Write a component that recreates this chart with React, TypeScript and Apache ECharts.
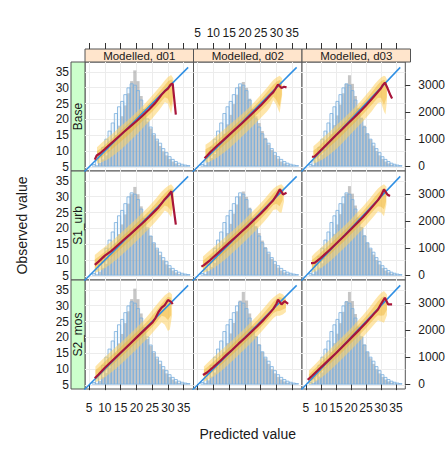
import React, { useEffect, useRef } from "react";
import * as echarts from "echarts";

// ---------- categories / ticks ----------
const COLUMNS = ["Modelled, d01", "Modelled, d02", "Modelled, d03"];
const ROWS = ["Base", "S1_urb", "S2_mos"];
const XY_TICKS = [5, 10, 15, 20, 25, 30, 35];
const COUNT_TICKS = [0, 1000, 2000, 3000];
const XY_MIN = 3.7;
const XY_MAX = 38.1;
const COUNT_MIN = -180;
const COUNT_MAX = 3860;

// ---------- histogram bins (left edges, width 1) ----------
const BIN_EDGES = [6, 7, 8, 9, 10, 11, 12, 13, 14, 15, 16, 17, 18, 19, 20, 21, 22, 23, 24, 25, 26, 27, 28, 29, 30, 31, 32, 33, 34, 35, 36];
const BIN_WIDTH = 1;

// observed values histogram (blue outline) - same in every panel
const OBSERVED_COUNTS = [60, 200, 400, 700, 1000, 1300, 1600, 1950, 2200, 2400, 2650, 2900, 3050, 3000, 2800, 2450, 2100, 1750, 1450, 1200, 1000, 850, 650, 500, 350, 250, 170, 110, 70, 40, 20];

// predicted values histograms (grey), one per panel
const PRED_BASE_D01 = [0, 30, 120, 250, 400, 600, 850, 1150, 1500, 1850, 2250, 2700, 3150, 3550, 3150, 2600, 2050, 1650, 1400, 1150, 950, 750, 550, 400, 270, 170, 100, 50, 20, 10, 0];
const PRED_BASE_D02 = [0, 40, 150, 300, 450, 650, 900, 1200, 1550, 1900, 2300, 2650, 2950, 3120, 2900, 2500, 2100, 1850, 1600, 1300, 1050, 800, 600, 420, 280, 170, 100, 50, 20, 10, 0];
const PRED_BASE_D03 = [0, 40, 140, 280, 430, 620, 880, 1180, 1520, 1880, 2280, 2700, 3050, 3370, 3050, 2600, 2150, 1800, 1500, 1200, 980, 760, 560, 400, 270, 170, 100, 50, 20, 10, 0];
const PRED_S1_D01 = [0, 30, 130, 270, 420, 620, 870, 1170, 1520, 1880, 2250, 2650, 3000, 3270, 3000, 2550, 2100, 1720, 1450, 1180, 960, 750, 550, 400, 270, 170, 100, 50, 20, 10, 0];
const PRED_S1_D02 = [0, 40, 150, 300, 460, 660, 920, 1220, 1560, 1900, 2280, 2620, 2920, 3100, 2900, 2500, 2120, 1820, 1560, 1280, 1040, 800, 600, 420, 280, 170, 100, 50, 20, 10, 0];
const PRED_S1_D03 = [0, 40, 140, 280, 440, 640, 890, 1190, 1530, 1880, 2260, 2660, 3020, 3300, 3020, 2580, 2140, 1780, 1480, 1200, 970, 760, 560, 400, 270, 170, 100, 50, 20, 10, 0];
const PRED_S2_D01 = [0, 30, 120, 260, 410, 610, 860, 1160, 1510, 1860, 2260, 2700, 3150, 3540, 3150, 2620, 2080, 1680, 1420, 1160, 950, 750, 550, 400, 270, 170, 100, 50, 20, 10, 0];
const PRED_S2_D02 = [0, 40, 140, 280, 430, 630, 880, 1180, 1520, 1880, 2270, 2700, 3100, 3420, 3100, 2620, 2150, 1780, 1480, 1190, 960, 750, 550, 400, 270, 170, 100, 50, 20, 10, 0];
const PRED_S2_D03 = [0, 40, 140, 280, 430, 630, 880, 1180, 1520, 1870, 2260, 2680, 3080, 3420, 3080, 2600, 2140, 1760, 1470, 1190, 960, 750, 550, 400, 270, 170, 100, 50, 20, 10, 0];

// perfect-model line
const PERFECT_LINE = [[0, 0], [36.4, 36.4]];

// ---------- medians [predicted, observed] ----------
const MED_BASE_D01 = [[6.8, 7.3], [7.4, 8.6], [8.5, 9.3], [10, 10.6], [12, 12.4], [14, 14.2], [16, 16.0], [18, 17.7], [20, 19.4], [22, 21.2], [24, 23.1], [26, 25.2], [27, 26.5], [28, 27.8], [29, 28.9], [30, 29.7], [30.8, 30.9], [31.5, 31.3], [32.5, 21.5]];
const MED_BASE_D02 = [[7.2, 7.7], [8, 8.5], [9, 9.6], [11, 11.5], [13, 13.3], [15, 15.1], [17, 16.9], [19, 18.7], [21, 20.6], [23, 22.5], [25, 24.4], [27, 26.5], [28, 27.6], [29, 28.6], [29.6, 29.5], [30.5, 31.0], [31.6, 29.9], [32.4, 30.3], [33.2, 30.1]];
const MED_BASE_D03 = [[7.0, 8.2], [7.8, 8.2], [9, 9.3], [11, 11.2], [13, 13.1], [15, 15.0], [17, 16.8], [19, 18.7], [21, 20.5], [23, 22.4], [25, 24.4], [27, 26.5], [28, 27.6], [29, 28.7], [30, 29.8], [30.6, 30.8], [31.3, 31.6], [32.2, 29.8], [33.2, 27.5], [33.7, 26.6]];
const MED_S1_D01 = [[6.8, 8.5], [8, 9.5], [10, 11.4], [12, 12.8], [14, 14.6], [16, 16.4], [18, 18.1], [20, 19.9], [22, 21.7], [24, 23.6], [26, 25.6], [27, 26.6], [28, 27.9], [29, 29.2], [30, 30.3], [31.1, 31.7], [32.5, 21.2]];
const MED_S1_D02 = [[6.2, 7.9], [7, 8.4], [9, 10.0], [11, 11.8], [13, 13.6], [15, 15.4], [17, 17.2], [19, 19.0], [21, 20.8], [23, 22.7], [25, 24.6], [27, 26.7], [28, 27.8], [29, 28.9], [30, 30.4], [31.1, 32.3], [32.1, 30.7], [33.2, 31.2]];
const MED_S1_D03 = [[6.7, 9.0], [7.2, 9.0], [8, 9.2], [10, 10.7], [12, 12.4], [14, 14.2], [16, 16.0], [18, 17.8], [20, 19.7], [22, 21.6], [24, 23.5], [26, 25.6], [28, 27.8], [29, 28.9], [30, 30.3], [31, 32.3], [32.1, 30.7], [33, 30.2]];
const MED_S2_D01 = [[6.8, 7.1], [8, 8.3], [10, 10.4], [12, 12.3], [14, 14.2], [16, 16.1], [18, 18.0], [20, 19.9], [22, 21.8], [24, 23.7], [25, 24.6], [26, 26.0], [27, 28.0], [28, 29.4], [29, 30.2], [30, 31.8], [31, 31.2], [31.5, 30.5]];
const MED_S2_D02 = [[6.7, 8.1], [8, 8.9], [10, 10.6], [12, 12.4], [14, 14.3], [16, 16.1], [18, 18.0], [20, 19.8], [22, 21.7], [24, 23.6], [26, 25.6], [28, 27.8], [29, 29.0], [30, 30.6], [30.5, 31.9], [31.6, 30.4], [32.6, 31.4], [33.7, 30.6]];
const MED_S2_D03 = [[5.6, 6.6], [7, 7.8], [9, 9.6], [11, 11.4], [13, 13.2], [15, 15.0], [17, 16.9], [19, 18.8], [21, 20.7], [23, 22.6], [25, 24.6], [27, 26.7], [28, 27.8], [29, 28.8], [30, 30.5], [31.3, 32.5], [32.4, 30.4], [33.7, 30.4]];

// ---------- 10/90 percentile bands [predicted, low, high] ----------
const Q1090_BASE_D01 = [[7.5, 6.0, 11.2], [9, 6.5, 12.6], [11, 7.4, 14.3], [13, 8.8, 16.0], [15, 10.4, 17.8], [17, 12.2, 19.5], [19, 14.2, 21.3], [21, 16.2, 23.2], [23, 18.3, 25.3], [25, 20.3, 27.5], [27, 22.6, 29.8], [28, 24.0, 31.0], [29, 25.4, 32.3], [30, 25.0, 33.4], [31, 21.8, 34.0], [31.7, 25.5, 33.0]];
const Q1090_BASE_D02 = [[7.5, 6.2, 12.0], [9, 6.8, 13.0], [11, 7.8, 14.8], [13, 9.2, 16.5], [15, 10.8, 18.2], [17, 12.6, 19.9], [19, 14.5, 21.6], [21, 16.4, 23.4], [23, 18.4, 25.5], [25, 20.4, 27.7], [27, 22.5, 30.0], [28, 23.8, 31.2], [29, 26.0, 32.4], [30, 24.5, 33.2], [31, 22.0, 33.8], [31.8, 27.5, 33.0]];
const Q1090_BASE_D03 = [[7.5, 6.0, 11.5], [9, 6.6, 12.8], [11, 7.6, 14.5], [13, 9.0, 16.2], [15, 10.6, 18.0], [17, 12.4, 19.8], [19, 14.4, 21.6], [21, 16.4, 23.5], [23, 18.4, 25.5], [25, 20.4, 27.7], [27, 22.6, 30.0], [28, 24.0, 31.2], [29, 25.2, 32.3], [30, 25.4, 33.2], [31, 22.5, 33.8], [31.5, 21.5, 33.5], [32, 26.0, 32.5]];
const Q1090_S1_D01 = [[6.8, 6.0, 11.6], [8, 6.4, 12.6], [10, 7.4, 14.2], [12, 8.8, 15.8], [14, 10.4, 17.6], [16, 12.2, 19.4], [18, 14.0, 21.2], [20, 15.9, 23.0], [22, 17.9, 25.0], [24, 19.9, 27.0], [26, 22.0, 29.2], [28, 24.4, 31.6], [29, 25.6, 32.6], [30, 25.0, 33.4], [31, 23.5, 33.9], [31.8, 27.0, 33.0]];
const Q1090_S1_D02 = [[6.7, 6.0, 11.1], [8, 6.4, 12.3], [10, 7.4, 14.0], [12, 8.8, 15.7], [14, 10.4, 17.4], [16, 12.2, 19.2], [18, 14.0, 21.0], [20, 15.9, 22.9], [22, 17.9, 24.9], [24, 19.9, 26.9], [26, 22.0, 29.0], [28, 24.4, 31.4], [29, 25.8, 32.5], [30, 26.0, 33.3], [31, 25.0, 33.8], [31.6, 24.9, 33.9], [32.4, 28.5, 33.0]];
const Q1090_S1_D03 = [[7, 6.0, 11.2], [8, 6.4, 12.2], [10, 7.4, 13.9], [12, 8.8, 15.6], [14, 10.4, 17.4], [16, 12.2, 19.2], [18, 14.0, 21.0], [20, 15.9, 22.9], [22, 17.9, 24.9], [24, 19.9, 26.9], [26, 22.0, 29.1], [28, 24.2, 31.5], [29, 25.4, 32.6], [30, 25.0, 33.4], [31, 23.8, 33.9], [31.8, 27.5, 33.2]];
const Q1090_S2_D01 = [[7, 5.8, 10.8], [8, 6.2, 11.8], [10, 7.4, 13.8], [12, 8.9, 15.6], [14, 10.6, 17.4], [16, 12.4, 19.2], [18, 14.3, 21.1], [20, 16.2, 23.0], [22, 18.2, 25.0], [24, 20.2, 27.3], [26, 22.5, 29.8], [28, 24.8, 32.2], [29, 24.0, 33.3], [30, 22.0, 34.0], [30.6, 22.5, 34.2], [31.3, 27.0, 33.5]];
const Q1090_S2_D02 = [[7, 6.0, 10.8], [8, 6.5, 11.8], [10, 7.6, 13.7], [12, 9.0, 15.5], [14, 10.7, 17.3], [16, 12.5, 19.1], [18, 14.4, 21.0], [20, 16.3, 22.9], [22, 18.3, 24.9], [24, 20.4, 27.0], [26, 22.6, 29.3], [28, 24.9, 31.6], [29, 26.0, 32.6], [30, 26.8, 33.4], [31, 26.8, 34.0], [32, 27.2, 33.6], [33, 28.0, 32.5]];
const Q1090_S2_D03 = [[6, 5.0, 9.5], [8, 5.9, 11.4], [10, 7.2, 13.4], [12, 8.7, 15.3], [14, 10.4, 17.2], [16, 12.2, 19.1], [18, 14.1, 21.0], [20, 16.0, 22.9], [22, 18.0, 24.9], [24, 20.0, 27.0], [26, 22.2, 29.3], [28, 24.4, 31.8], [29, 25.4, 33.0], [30, 25.0, 34.0], [31, 24.6, 34.6], [32, 27.0, 33.5]];

// ---------- 25/75 percentile bands [predicted, low, high] ----------
const Q2575_BASE_D01 = [[7.5, 7.0, 10.0], [9, 8.0, 11.0], [11, 9.6, 12.8], [13, 11.2, 14.6], [15, 12.9, 16.4], [17, 14.7, 18.2], [19, 16.6, 20.1], [21, 18.5, 22.0], [23, 20.4, 24.0], [25, 22.4, 26.1], [27, 24.6, 28.4], [28, 25.8, 29.6], [29, 27.0, 30.8], [30, 26.5, 32.0], [31, 24.0, 32.6], [31.6, 27.0, 32.2]];
const Q2575_BASE_D02 = [[7.5, 7.0, 10.6], [9, 8.1, 11.4], [11, 9.8, 13.1], [13, 11.5, 14.9], [15, 13.2, 16.6], [17, 15.0, 18.4], [19, 16.9, 20.3], [21, 18.8, 22.2], [23, 20.7, 24.2], [25, 22.7, 26.3], [27, 24.8, 28.6], [28, 25.8, 29.8], [29, 27.2, 30.9], [30, 26.0, 31.9], [31, 24.0, 32.4], [31.7, 28.0, 31.8]];
const Q2575_BASE_D03 = [[7.5, 7.0, 10.2], [9, 8.0, 11.2], [11, 9.7, 13.0], [13, 11.4, 14.8], [15, 13.1, 16.6], [17, 14.9, 18.4], [19, 16.8, 20.3], [21, 18.7, 22.2], [23, 20.6, 24.2], [25, 22.6, 26.3], [27, 24.7, 28.6], [28, 25.8, 29.8], [29, 26.8, 31.0], [30, 26.8, 32.0], [31, 24.5, 32.5], [31.9, 27.0, 31.8]];
const Q2575_S1_D01 = [[6.8, 7.0, 10.2], [8, 7.8, 11.0], [10, 9.3, 12.6], [12, 10.9, 14.3], [14, 12.6, 16.1], [16, 14.4, 17.9], [18, 16.2, 19.7], [20, 18.1, 21.6], [22, 20.0, 23.5], [24, 21.9, 25.5], [26, 24.0, 27.7], [28, 26.2, 30.0], [29, 27.2, 31.1], [30, 26.8, 32.0], [31, 25.5, 32.6], [31.7, 28.0, 32.0]];
const Q2575_S1_D02 = [[6.7, 7.0, 9.8], [8, 7.8, 10.9], [10, 9.3, 12.5], [12, 10.9, 14.2], [14, 12.6, 16.0], [16, 14.4, 17.8], [18, 16.2, 19.6], [20, 18.1, 21.5], [22, 20.0, 23.4], [24, 21.9, 25.4], [26, 24.0, 27.6], [28, 26.2, 29.9], [29, 27.4, 31.0], [30, 27.8, 32.0], [31, 27.0, 32.8], [32, 29.0, 32.3]];
const Q2575_S1_D03 = [[7, 7.0, 10.0], [8, 7.8, 10.8], [10, 9.3, 12.4], [12, 10.9, 14.1], [14, 12.6, 15.9], [16, 14.4, 17.7], [18, 16.2, 19.5], [20, 18.1, 21.4], [22, 20.0, 23.4], [24, 21.9, 25.4], [26, 24.0, 27.6], [28, 26.1, 30.0], [29, 27.0, 31.1], [30, 26.8, 32.1], [31, 26.0, 32.7], [31.7, 28.5, 32.1]];
const Q2575_S2_D01 = [[7, 6.6, 9.6], [8, 7.4, 10.5], [10, 9.2, 12.4], [12, 11.0, 14.2], [14, 12.8, 16.0], [16, 14.6, 17.9], [18, 16.5, 19.8], [20, 18.4, 21.7], [22, 20.3, 23.6], [24, 22.2, 25.6], [26, 24.4, 28.0], [28, 26.8, 30.6], [29, 26.5, 31.8], [30, 25.5, 32.8], [31, 27.0, 32.5]];
const Q2575_S2_D02 = [[7, 6.9, 9.8], [8, 7.6, 10.6], [10, 9.2, 12.3], [12, 10.9, 14.1], [14, 12.7, 15.9], [16, 14.5, 17.8], [18, 16.4, 19.7], [20, 18.3, 21.6], [22, 20.2, 23.5], [24, 22.1, 25.5], [26, 24.2, 27.7], [28, 26.4, 30.0], [29, 27.6, 31.2], [30, 28.2, 32.2], [31, 28.3, 32.7], [32, 28.8, 32.4], [33, 29.3, 31.8]];
const Q2575_S2_D03 = [[6, 5.8, 8.3], [8, 7.0, 10.2], [10, 8.9, 12.1], [12, 10.7, 13.9], [14, 12.5, 15.8], [16, 14.3, 17.7], [18, 16.2, 19.6], [20, 18.1, 21.5], [22, 20.0, 23.5], [24, 21.9, 25.5], [26, 24.0, 27.7], [28, 26.1, 30.1], [29, 27.0, 31.4], [30, 26.8, 32.4], [31, 27.0, 33.0], [32, 28.8, 32.2]];

const PANELS = [
  { pred: PRED_BASE_D01, med: MED_BASE_D01, outer: Q1090_BASE_D01, inner: Q2575_BASE_D01 },
  { pred: PRED_BASE_D02, med: MED_BASE_D02, outer: Q1090_BASE_D02, inner: Q2575_BASE_D02 },
  { pred: PRED_BASE_D03, med: MED_BASE_D03, outer: Q1090_BASE_D03, inner: Q2575_BASE_D03 },
  { pred: PRED_S1_D01, med: MED_S1_D01, outer: Q1090_S1_D01, inner: Q2575_S1_D01 },
  { pred: PRED_S1_D02, med: MED_S1_D02, outer: Q1090_S1_D02, inner: Q2575_S1_D02 },
  { pred: PRED_S1_D03, med: MED_S1_D03, outer: Q1090_S1_D03, inner: Q2575_S1_D03 },
  { pred: PRED_S2_D01, med: MED_S2_D01, outer: Q1090_S2_D01, inner: Q2575_S2_D01 },
  { pred: PRED_S2_D02, med: MED_S2_D02, outer: Q1090_S2_D02, inner: Q2575_S2_D02 },
  { pred: PRED_S2_D03, med: MED_S2_D03, outer: Q1090_S2_D03, inner: Q2575_S2_D03 },
];

// ---------- layout & style ----------
const FONT = "'Liberation Sans', Arial, Helvetica, sans-serif";
const TXT = "#1a1a1a";
const GRID_LEFT = 85;
const GRID_TOP = 62;
const COL_W = 108.5;
const ROW_H = 109;
const STRIP_H = 13;
const LEFT_STRIP_W = 14;

function histRender(fill: string, stroke: string | null, lw: number) {
  return (params: any, api: any) => {
    const p0 = api.coord([api.value(0), 0]);
    const p1 = api.coord([api.value(1), api.value(2)]);
    return {
      type: "rect",
      shape: { x: p0[0], y: p1[1], width: p1[0] - p0[0], height: p0[1] - p1[1] },
      style: stroke ? { fill, stroke, lineWidth: lw } : { fill },
    };
  };
}

function bandRender(band: number[][], fill: string) {
  return (params: any, api: any) => {
    if (params.dataIndex !== 0) return null;
    const upper = band.map((d) => api.coord([d[0], d[2]]));
    const lower = band.slice().reverse().map((d) => api.coord([d[0], d[1]]));
    return {
      type: "polygon",
      shape: { points: upper.concat(lower) },
      style: { fill },
    };
  };
}

function buildOption() {
  const grid: any[] = [];
  const xAxis: any[] = [];
  const yAxis: any[] = [];
  const series: any[] = [];
  const graphic: any[] = [];
  const labelStyle = { fontSize: 12, color: TXT, fontFamily: FONT };
  const plain = (v: number) => String(v);

  for (let r = 0; r < 3; r++) {
    for (let c = 0; c < 3; c++) {
      const gi = r * 3 + c;
      const p = PANELS[gi];
      grid.push({
        left: GRID_LEFT + c * COL_W,
        top: GRID_TOP + r * ROW_H,
        width: COL_W,
        height: ROW_H,
        show: true,
        borderColor: "#555",
        borderWidth: 1,
        backgroundColor: "#fff",
      });
      const xi = xAxis.length;
      xAxis.push({
        type: "value",
        gridIndex: gi,
        min: XY_MIN,
        max: XY_MAX,
        position: "bottom",
        axisLine: { show: false },
        axisTick: { show: r === 2, customValues: XY_TICKS, length: 6, lineStyle: { color: "#333" } },
        axisLabel: { show: r === 2 && c !== 1, customValues: XY_TICKS, margin: 13, formatter: plain, ...labelStyle },
        splitLine: { show: true, lineStyle: { color: "#ececec", width: 1 } },
      });
      if (r === 0) {
        xAxis.push({
          type: "value",
          gridIndex: gi,
          min: XY_MIN,
          max: XY_MAX,
          position: "top",
          offset: STRIP_H,
          axisLine: { show: false },
          axisTick: { show: true, customValues: XY_TICKS, length: 6, lineStyle: { color: "#333" } },
          axisLabel: { show: c === 1, customValues: XY_TICKS, margin: 10, formatter: plain, ...labelStyle },
          splitLine: { show: false },
        });
      }
      const yi = yAxis.length;
      yAxis.push({
        type: "value",
        gridIndex: gi,
        min: XY_MIN,
        max: XY_MAX,
        position: "left",
        axisLine: { show: false },
        axisTick: { show: false, customValues: XY_TICKS },
        axisLabel: { show: c === 0, customValues: XY_TICKS, margin: LEFT_STRIP_W + 2, formatter: plain, ...labelStyle },
        splitLine: { show: true, lineStyle: { color: "#ececec", width: 1 } },
      });
      yAxis.push({
        type: "value",
        gridIndex: gi,
        min: COUNT_MIN,
        max: COUNT_MAX,
        position: "right",
        axisLine: { show: false },
        axisTick: { show: c === 2, customValues: COUNT_TICKS, length: 5, lineStyle: { color: "#333" } },
        axisLabel: { show: c === 2, customValues: COUNT_TICKS, margin: 13, formatter: plain, ...labelStyle },
        splitLine: { show: false },
      });

      const predData = BIN_EDGES.map((b, i) => [b, b + BIN_WIDTH, p.pred[i]]);
      const obsData = BIN_EDGES.map((b, i) => [b, b + BIN_WIDTH, OBSERVED_COUNTS[i]]);
      series.push({
        type: "custom",
        xAxisIndex: xi,
        yAxisIndex: yi + 1,
        data: predData,
        encode: { x: [0, 1], y: 2 },
        renderItem: histRender("rgba(160,160,160,0.6)", null, 0),
        silent: true,
      });
      series.push({
        type: "custom",
        xAxisIndex: xi,
        yAxisIndex: yi + 1,
        data: obsData,
        encode: { x: [0, 1], y: 2 },
        renderItem: histRender("rgba(160,195,230,0.12)", "#7aaedd", 0.8),
        silent: true,
      });
      series.push({
        type: "custom",
        xAxisIndex: xi,
        yAxisIndex: yi,
        data: p.outer,
        encode: { x: 0, y: [1, 2] },
        renderItem: bandRender(p.outer, "rgba(253,210,100,0.55)"),
        silent: true,
      });
      series.push({
        type: "custom",
        xAxisIndex: xi,
        yAxisIndex: yi,
        data: p.inner,
        encode: { x: 0, y: [1, 2] },
        renderItem: bandRender(p.inner, "rgba(240,180,50,0.45)"),
        silent: true,
      });
      series.push({
        type: "line",
        xAxisIndex: xi,
        yAxisIndex: yi,
        data: PERFECT_LINE,
        symbol: "none",
        clip: true,
        lineStyle: { color: "#2f8fe3", width: 1.5 },
        silent: true,
      });
      series.push({
        type: "line",
        xAxisIndex: xi,
        yAxisIndex: yi,
        data: p.med,
        symbol: "none",
        clip: true,
        lineStyle: { color: "#a8153a", width: 2.2 },
        silent: true,
      });
    }
  }

  // top strips
  for (let c = 0; c < 3; c++) {
    const x = GRID_LEFT + c * COL_W;
    graphic.push({
      type: "rect",
      shape: { x, y: GRID_TOP - STRIP_H, width: COL_W, height: STRIP_H },
      style: { fill: "#ffe5cc", stroke: "#555", lineWidth: 1 },
    });
    graphic.push({
      type: "text",
      x: x + COL_W / 2,
      y: GRID_TOP - STRIP_H / 2,
      style: { text: COLUMNS[c], fill: TXT, font: `11.5px ${FONT}`, textAlign: "center", textVerticalAlign: "middle" },
    });
  }
  // left strips
  for (let r = 0; r < 3; r++) {
    const y = GRID_TOP + r * ROW_H;
    graphic.push({
      type: "rect",
      shape: { x: GRID_LEFT - LEFT_STRIP_W, y, width: LEFT_STRIP_W, height: ROW_H },
      style: { fill: "#ccffcc", stroke: "#555", lineWidth: 1 },
    });
    graphic.push({
      type: "text",
      x: GRID_LEFT - LEFT_STRIP_W / 2,
      y: y + ROW_H / 2,
      rotation: Math.PI / 2,
      style: { text: ROWS[r], fill: TXT, font: `12px ${FONT}`, textAlign: "center", textVerticalAlign: "middle" },
    });
  }
  // axis titles
  graphic.push({
    type: "text",
    x: 22,
    y: GRID_TOP + (3 * ROW_H) / 2,
    rotation: Math.PI / 2,
    style: { text: "Observed value", fill: TXT, font: `14px ${FONT}`, textAlign: "center", textVerticalAlign: "middle" },
  });
  graphic.push({
    type: "text",
    x: GRID_LEFT + (3 * COL_W) / 2,
    y: 434,
    style: { text: "Predicted value", fill: TXT, font: `14px ${FONT}`, textAlign: "center", textVerticalAlign: "middle" },
  });

  return {
    animation: false,
    backgroundColor: "#ffffff",
    grid,
    xAxis,
    yAxis,
    series,
    graphic,
  };
}

export default function App() {
  const ref = useRef<HTMLDivElement>(null);
  useEffect(() => {
    if (!ref.current) return;
    const chart = echarts.init(ref.current, null, { renderer: "svg" });
    chart.setOption(buildOption() as any);
    return () => chart.dispose();
  }, []);
  return (
    <div
      ref={ref}
      style={{ position: "fixed", left: 0, top: 0, width: 448, height: 459, background: "#fff" }}
    />
  );
}
